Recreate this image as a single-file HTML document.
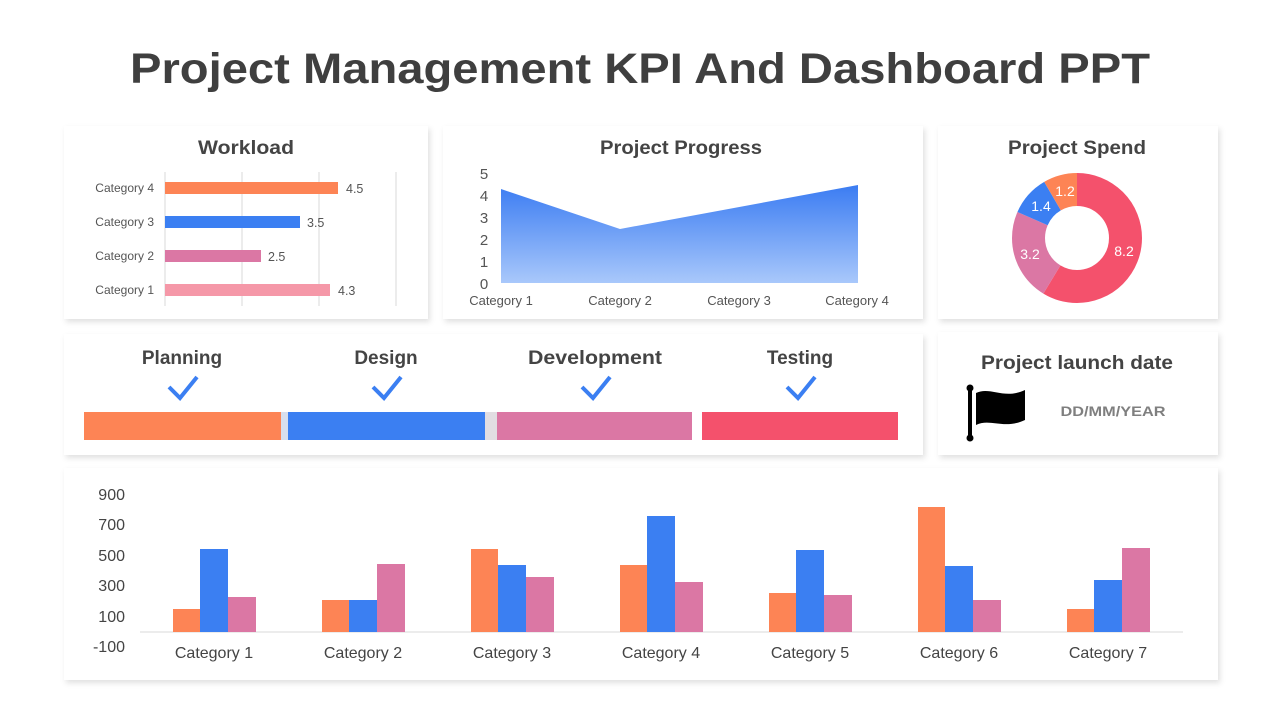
<!DOCTYPE html>
<html><head><meta charset="utf-8"><style>
body{margin:0;background:#fff;width:1280px;height:720px;overflow:hidden;font-family:"Liberation Sans",sans-serif}
</style></head><body>
<svg width="1280" height="720" viewBox="0 0 1280 720" xmlns="http://www.w3.org/2000/svg" font-family="Liberation Sans, sans-serif">
<defs>
<filter id="sh" x="-10%" y="-10%" width="120%" height="130%"><feDropShadow dx="2" dy="3" stdDeviation="3" flood-color="#000" flood-opacity="0.12"/></filter>
<linearGradient id="ag" x1="0" y1="0" x2="0" y2="1"><stop offset="0" stop-color="#3b7cf2"/><stop offset="1" stop-color="#a9c8fb"/></linearGradient>
</defs>
<text x="130" y="83" textLength="1020" lengthAdjust="spacingAndGlyphs" font-size="43" font-weight="bold" fill="#3f3f3f">Project Management KPI And Dashboard PPT</text>
<g filter="url(#sh)" fill="#fff">
<rect x="64" y="126" width="364" height="193"/>
<rect x="443" y="126" width="480" height="193"/>
<rect x="938" y="126" width="280" height="193"/>
<rect x="64" y="334" width="859" height="121"/>
<rect x="938" y="332" width="280" height="123"/>
<rect x="64" y="468" width="1154" height="212"/>
</g>
<!-- Workload -->
<text x="246" y="154" text-anchor="middle" font-size="19" font-weight="bold" fill="#444" textLength="96" lengthAdjust="spacingAndGlyphs">Workload</text>
<g stroke="#d9d9d9" stroke-width="1"><line x1="165" y1="172" x2="165" y2="306"/><line x1="242" y1="172" x2="242" y2="306"/><line x1="319" y1="172" x2="319" y2="306"/><line x1="396" y1="172" x2="396" y2="306"/></g>
<rect x="165" y="182" width="173" height="12" fill="#fd8455"/>
<rect x="165" y="216" width="135" height="12" fill="#3b7ff2"/>
<rect x="165" y="250" width="96" height="12" fill="#db77a4"/>
<rect x="165" y="284" width="165" height="12" fill="#f598a8"/>
<g font-size="12" fill="#555" text-anchor="end"><text x="154" y="192">Category 4</text><text x="154" y="226">Category 3</text><text x="154" y="260">Category 2</text><text x="154" y="294">Category 1</text></g>
<g font-size="12.5" fill="#555"><text x="346" y="193">4.5</text><text x="307" y="227">3.5</text><text x="268" y="261">2.5</text><text x="338" y="295">4.3</text></g>
<!-- Progress -->
<text x="681" y="154" text-anchor="middle" font-size="19" font-weight="bold" fill="#444" textLength="162" lengthAdjust="spacingAndGlyphs">Project Progress</text>
<polygon points="501,189 620,229 858,185 858,283 501,283" fill="url(#ag)"/>
<g font-size="15" fill="#555" text-anchor="middle"><text x="484" y="179">5</text><text x="484" y="201">4</text><text x="484" y="223">3</text><text x="484" y="245">2</text><text x="484" y="267">1</text><text x="484" y="289">0</text></g>
<g font-size="13" fill="#555" text-anchor="middle"><text x="501" y="305">Category 1</text><text x="620" y="305">Category 2</text><text x="739" y="305">Category 3</text><text x="857" y="305">Category 4</text></g>
<!-- Spend -->
<text x="1077" y="154" text-anchor="middle" font-size="19" font-weight="bold" fill="#444" textLength="138" lengthAdjust="spacingAndGlyphs">Project Spend</text>
<g transform="rotate(-90 1077 238)" fill="none" stroke-width="33">
<circle cx="1077" cy="238" r="48.5" stroke="#f4516c" stroke-dasharray="178.49 304.73"/>
<circle cx="1077" cy="238" r="48.5" stroke="#db77a4" stroke-dasharray="0 178.49 69.65 304.73"/>
<circle cx="1077" cy="238" r="48.5" stroke="#3b7ff2" stroke-dasharray="0 248.14 30.47 304.73"/>
<circle cx="1077" cy="238" r="48.5" stroke="#fd8455" stroke-dasharray="0 278.61 26.12 304.73"/>
</g>
<g font-size="14" fill="#fff" text-anchor="middle"><text x="1124" y="256">8.2</text><text x="1030" y="259">3.2</text><text x="1041" y="211">1.4</text><text x="1065" y="196">1.2</text></g>
<!-- Phases -->
<g font-size="19" font-weight="bold" fill="#444" text-anchor="middle"><text x="182" y="364">Planning</text><text x="386" y="364">Design</text><text x="595" y="364" textLength="134" lengthAdjust="spacingAndGlyphs">Development</text><text x="800" y="364">Testing</text></g>
<g fill="none" stroke="#3b7ff2" stroke-width="4"><polyline points="169,387 180,398 197,377"/><polyline points="373,387 384,398 401,377"/><polyline points="582,387 593,398 610,377"/><polyline points="787,387 798,398 815,377"/></g>
<rect x="84" y="412" width="197" height="28" fill="#fd8455"/>
<rect x="281" y="412" width="7" height="28" fill="#d7dfef"/>
<rect x="288" y="412" width="197" height="28" fill="#3b7ff2"/>
<rect x="485" y="412" width="12" height="28" fill="#e2dde2"/>
<rect x="497" y="412" width="195" height="28" fill="#db77a4"/>
<rect x="702" y="412" width="196" height="28" fill="#f4516c"/>
<!-- Launch -->
<text x="1077" y="369" text-anchor="middle" font-size="19" font-weight="bold" fill="#444" textLength="192" lengthAdjust="spacingAndGlyphs">Project launch date</text>
<line x1="970" y1="390" x2="970" y2="437" stroke="#000" stroke-width="4"/><circle cx="970" cy="388" r="3.5"/><circle cx="970" cy="438" r="3.5"/>
<path d="M976,393 C990,386 1004,400 1025,390 L1025,420 C1004,430 990,418 976,425 Z" fill="#000"/>
<text x="1113" y="416" text-anchor="middle" font-size="14" font-weight="bold" fill="#7f7f7f" textLength="105" lengthAdjust="spacingAndGlyphs">DD/MM/YEAR</text>
<!-- Bottom chart -->
<g font-size="16" fill="#444" text-anchor="end"><text x="125" y="500">900</text><text x="125" y="530">700</text><text x="125" y="561">500</text><text x="125" y="591">300</text><text x="125" y="622">100</text><text x="125" y="652">-100</text></g>
<line x1="140" y1="632" x2="1183" y2="632" stroke="#d9d9d9"/>
<g>
<rect x="173" y="609" width="27" height="23" fill="#fd8455"/><rect x="200" y="549" width="28" height="83" fill="#3b7ff2"/><rect x="228" y="597" width="28" height="35" fill="#db77a4"/>
<rect x="322" y="600" width="27" height="32" fill="#fd8455"/><rect x="349" y="600" width="28" height="32" fill="#3b7ff2"/><rect x="377" y="564" width="28" height="68" fill="#db77a4"/>
<rect x="471" y="549" width="27" height="83" fill="#fd8455"/><rect x="498" y="565" width="28" height="67" fill="#3b7ff2"/><rect x="526" y="577" width="28" height="55" fill="#db77a4"/>
<rect x="620" y="565" width="27" height="67" fill="#fd8455"/><rect x="647" y="516" width="28" height="116" fill="#3b7ff2"/><rect x="675" y="582" width="28" height="50" fill="#db77a4"/>
<rect x="769" y="593" width="27" height="39" fill="#fd8455"/><rect x="796" y="550" width="28" height="82" fill="#3b7ff2"/><rect x="824" y="595" width="28" height="37" fill="#db77a4"/>
<rect x="918" y="507" width="27" height="125" fill="#fd8455"/><rect x="945" y="566" width="28" height="66" fill="#3b7ff2"/><rect x="973" y="600" width="28" height="32" fill="#db77a4"/>
<rect x="1067" y="609" width="27" height="23" fill="#fd8455"/><rect x="1094" y="580" width="28" height="52" fill="#3b7ff2"/><rect x="1122" y="548" width="28" height="84" fill="#db77a4"/>
</g>
<g font-size="16" fill="#444" text-anchor="middle"><text x="214" y="658">Category 1</text><text x="363" y="658">Category 2</text><text x="512" y="658">Category 3</text><text x="661" y="658">Category 4</text><text x="810" y="658">Category 5</text><text x="959" y="658">Category 6</text><text x="1108" y="658">Category 7</text></g>
</svg>
</body></html>
